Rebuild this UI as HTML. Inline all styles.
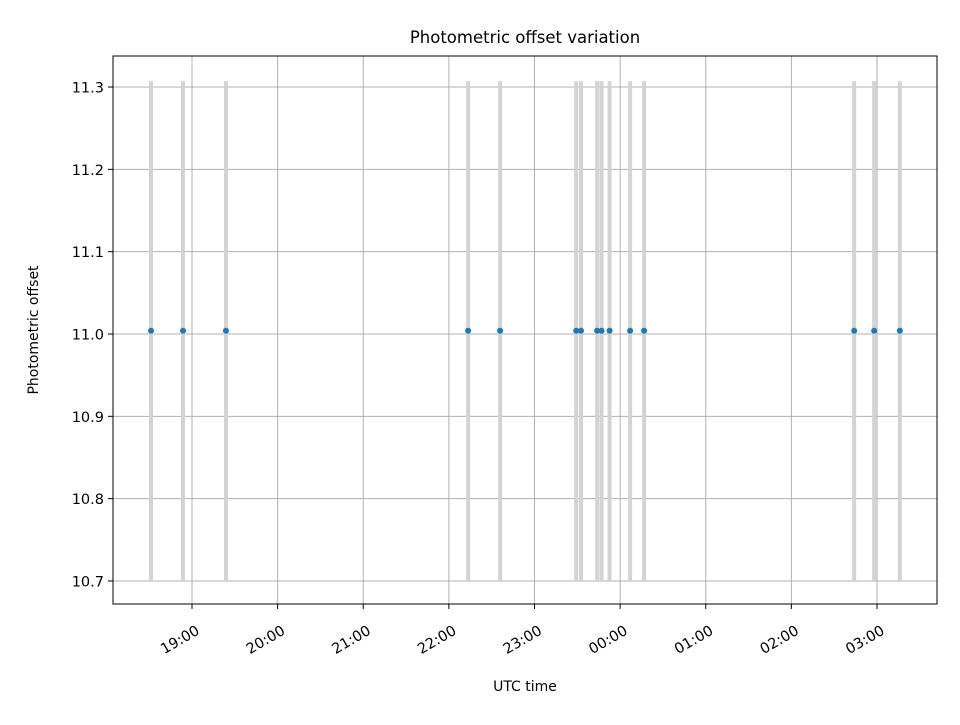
<!DOCTYPE html>
<html><head><meta charset="utf-8"><style>
body{margin:0;background:#fff;}
text{font-family:"DejaVu Sans","Liberation Sans",sans-serif;fill:#000;}
</style></head><body>
<svg id="chart" width="960" height="720" xmlns="http://www.w3.org/2000/svg">
<rect width="960" height="720" fill="#fff"/>
<text x="525" y="43" font-size="16.5" text-anchor="middle">Photometric offset variation</text>
<g id="grid"></g><g id="bars"></g><g id="points"></g>
<rect x="113" y="56" width="824" height="548" fill="none" stroke="#000" stroke-width="1"/>
<g id="axes"></g>
<text x="525" y="691" font-size="14" text-anchor="middle">UTC time</text>
<text transform="translate(38,330) rotate(-90)" font-size="14" text-anchor="middle">Photometric offset</text>
</svg>
<script>
// times in minutes relative to 19:00
const times = [-28.7, -6.3, 23.8, 193.5, 215.9, 269.2, 272.6, 283.9, 287.0, 292.6, 307.0, 316.8, 464.0, 478.0, 496.0];
const offsets = [11.004, 11.004, 11.004, 11.004, 11.004, 11.004, 11.004, 11.004, 11.004, 11.004, 11.004, 11.004, 11.004, 11.004, 11.004];
const barLow = [10.7, 10.7, 10.7, 10.7, 10.7, 10.7, 10.7, 10.7, 10.7, 10.7, 10.7, 10.7, 10.7, 10.7, 10.7];
const barHigh = [11.307, 11.307, 11.307, 11.307, 11.307, 11.307, 11.307, 11.307, 11.307, 11.307, 11.307, 11.307, 11.307, 11.307, 11.307];
const yTicks = [10.7, 10.8, 10.9, 11.0, 11.1, 11.2, 11.3];
const xTickMinutes = [0, 60, 120, 180, 240, 300, 360, 420, 480];
const xTickLabels = ["19:00","20:00","21:00","22:00","23:00","00:00","01:00","02:00","03:00"];

const NS = "http://www.w3.org/2000/svg";
const xs = m => 192 + m * (685 / 480);
const ys = v => 334 - (v - 11.0) * 823.3;
function mk(tag, attrs, parent){const e=document.createElementNS(NS,tag);for(const k in attrs)e.setAttribute(k,attrs[k]);document.getElementById(parent).appendChild(e);return e;}

yTicks.forEach((v,i)=>{
  const y=ys(v);
  const g=mk('line',{x1:113,x2:937,y1:y,y2:y,stroke:'#b0b0b0','stroke-width':1},'grid');
  
  
  const t=mk('line',{x1:108,x2:113,y1:y,y2:y,stroke:'#000'},'axes');
  
  
  const l=mk('text',{x:104,y:y+5.5,'font-size':14.5,'text-anchor':'end'},'axes');
  l.textContent=v.toFixed(1);
  
  
});
xTickMinutes.forEach((m,i)=>{
  const x=xs(m);
  const g=mk('line',{x1:x,x2:x,y1:56,y2:604,stroke:'#b0b0b0','stroke-width':1},'grid');
  
  
  const t=mk('line',{x1:x,x2:x,y1:604,y2:609,stroke:'#000'},'axes');
  
  
  const ax=x+3, ay=624;
  const l=mk('text',{x:ax,y:ay,'font-size':14.5,'text-anchor':'end',transform:`rotate(-30 ${ax} ${ay})`},'axes');
  l.setAttribute('dy','0.75em');
  l.textContent=xTickLabels[i];
  
  
});
times.forEach((m,i)=>{
  const x=xs(m);
  const b=mk('line',{x1:x,x2:x,y1:ys(barLow[i]),y2:ys(barHigh[i]),stroke:'#d3d3d3','stroke-width':4},'bars');
  
  
});
times.forEach((m,i)=>{
  const p=mk('circle',{cx:xs(m),cy:ys(offsets[i]),r:3,fill:'#1f77b4'},'points');
  
  
});
</script>
</body></html>
